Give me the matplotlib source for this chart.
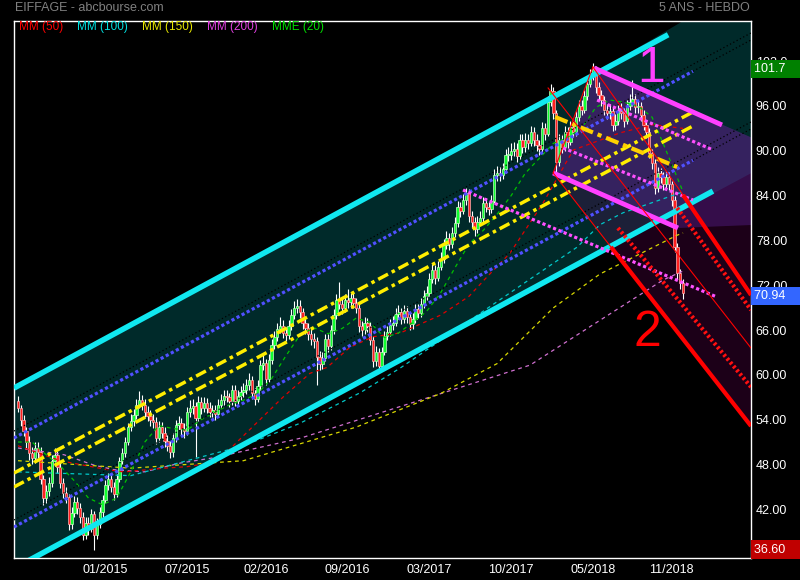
import matplotlib
matplotlib.use("Agg")
import matplotlib.pyplot as plt
import numpy as np

plt.rcParams['font.family'] = ['Liberation Sans', 'DejaVu Sans']

# --- weekly EIFFAGE quotes ---
first_open = 56.5
closes = [
    55.5, 54.0, 52.5, 51.0, 49.5, 48.8, 50.2, 49.6, 46.0, 43.5,
    44.5, 45.5, 48.5, 49.2, 47.6, 45.5, 44.2, 43.6, 40.0, 41.5,
    43.0, 42.2, 41.0, 38.5, 40.2, 39.4, 41.3, 38.6, 40.0, 41.6,
    43.2, 45.2, 46.0, 45.0, 44.0, 46.0, 48.4, 49.5, 51.0, 53.0,
    53.8, 54.6, 56.0, 56.6, 56.0, 55.0, 54.5, 54.0, 53.7, 51.6,
    53.0, 52.2, 51.2, 50.5, 49.6, 51.5, 53.3, 53.6, 52.8, 52.5,
    55.0, 55.5, 55.8, 54.2, 56.4, 55.5, 56.2, 55.6, 55.0, 55.3,
    54.8, 56.0, 56.6, 57.2, 57.0, 56.5, 58.0, 56.5, 57.2, 57.7,
    58.0, 58.6, 59.3, 57.5, 56.8, 58.5, 61.3, 61.6, 59.5, 62.0,
    64.0, 65.0, 66.2, 66.6, 65.6, 65.3, 66.5, 68.0, 69.0, 69.2,
    68.4, 67.0, 66.3, 65.5, 64.8, 64.5, 62.4, 61.5, 62.3, 64.8,
    63.8, 66.0, 68.0, 70.0, 69.5, 69.0, 70.0, 69.7, 70.3, 69.6,
    69.0, 66.5, 66.0, 67.0, 66.5, 64.7, 61.8, 63.0, 61.2, 63.0,
    65.2, 65.8, 66.7, 67.0, 68.2, 68.4, 67.5, 68.5, 67.8, 66.8,
    67.5, 68.8, 68.3, 69.5, 70.5, 71.0, 72.8, 74.0, 73.0, 74.5,
    75.5, 77.4, 78.3, 77.5, 79.0, 80.3, 82.5, 82.0, 83.4, 84.3,
    81.3, 80.5, 79.5, 80.5, 81.0, 83.0, 82.5, 82.2, 83.3, 86.8,
    87.0, 86.8, 87.5, 89.4, 89.5, 90.0, 90.3, 89.3, 91.5, 90.5,
    91.5, 91.0, 92.5, 91.5, 90.8, 90.3, 93.0, 92.3, 96.5, 98.0,
    95.0, 88.5, 91.5, 90.5, 92.5, 91.2, 93.2, 92.5, 94.5, 96.0,
    95.5, 97.3, 99.0, 100.0, 101.0, 98.5, 97.5, 96.8, 95.5, 95.0,
    95.3, 93.5, 94.0, 95.3, 95.0, 94.0, 96.0, 96.5, 97.0, 95.8,
    96.0, 94.8, 93.5, 92.5, 89.7, 88.4, 85.0, 87.0, 86.5, 85.5,
    86.5, 85.5, 83.4, 77.1, 73.6, 72.3, 70.94,
]
highs = [
    57.2, 56.0, 54.6, 53.0, 51.8, 50.3, 51.0, 51.0, 50.3, 46.6,
    45.2, 46.3, 49.2, 50.2, 49.8, 48.2, 46.2, 45.0, 44.0, 42.3,
    43.8, 43.6, 42.8, 41.6, 41.0, 41.0, 42.0, 41.8, 40.8, 42.3,
    43.9, 45.9, 46.9, 46.8, 45.6, 46.7, 49.0, 50.2, 51.7, 53.6,
    54.8, 55.4, 56.8, 57.8, 57.3, 56.7, 55.8, 55.3, 54.8, 54.3,
    53.8, 53.7, 53.0, 51.9, 51.2, 52.2, 54.0, 54.5, 54.2, 53.6,
    55.7, 56.6, 56.8, 56.4, 57.2, 57.0, 57.0, 56.9, 56.3, 56.0,
    56.0, 56.8, 57.4, 58.0, 58.0, 57.6, 58.7, 58.6, 58.0, 58.5,
    58.9, 59.5, 60.2, 59.9, 58.2, 59.3, 62.0, 62.8, 62.1, 62.8,
    64.8, 65.9, 67.0, 67.8, 67.3, 66.4, 67.3, 68.8, 69.9, 70.2,
    70.0, 69.0, 67.8, 67.0, 66.3, 65.6, 65.0, 63.2, 63.0, 65.5,
    65.4, 66.7, 68.8, 70.8, 72.4, 70.2, 70.8, 71.5, 71.0, 70.9,
    70.3, 69.6, 67.2, 67.8, 67.6, 67.1, 65.2, 63.8, 63.6, 63.7,
    65.9, 66.6, 67.5, 67.9, 69.0, 69.3, 69.0, 69.3, 69.2, 68.4,
    68.3, 69.5, 69.5, 70.3, 71.3, 71.9, 73.6, 74.8, 74.7, 75.3,
    76.4, 78.2, 79.2, 79.0, 79.8, 81.2, 83.3, 83.2, 84.2, 85.0,
    84.9, 82.0, 81.2, 81.3, 81.9, 83.8, 83.7, 83.2, 84.1, 87.6,
    88.0, 87.8, 88.4, 90.2, 90.5, 91.0, 91.2, 91.0, 92.3, 92.2,
    92.4, 92.2, 93.3, 93.2, 92.2, 91.5, 93.8, 93.7, 97.3, 99.0,
    98.6, 95.5, 92.3, 92.2, 93.3, 93.2, 94.0, 93.9, 95.3, 96.8,
    96.8, 98.1, 99.8, 100.9, 101.7, 101.3, 99.2, 98.2, 97.4, 96.2,
    96.2, 95.9, 94.9, 96.1, 96.6, 95.7, 96.8, 97.6, 99.5, 97.6,
    96.8, 96.6, 95.4, 94.1, 93.0, 90.3, 88.9, 87.8, 87.7, 87.2,
    87.3, 87.2, 86.0, 83.9, 77.6, 74.2, 72.8,
]
lows = [
    55.0, 53.2, 51.8, 50.2, 48.6, 48.0, 48.2, 48.8, 45.4, 42.6,
    42.8, 43.8, 45.0, 47.8, 46.8, 44.8, 43.5, 42.8, 39.2, 39.4,
    41.0, 41.4, 40.2, 37.9, 38.0, 38.6, 38.9, 36.6, 38.0, 39.5,
    41.0, 42.8, 44.6, 44.3, 43.2, 43.6, 45.6, 48.0, 49.0, 50.6,
    52.5, 53.2, 54.1, 55.5, 55.3, 54.3, 53.8, 53.2, 52.9, 50.8,
    51.0, 51.5, 50.4, 49.8, 48.8, 49.0, 51.0, 52.6, 52.0, 51.6,
    52.0, 54.4, 54.8, 49.0, 53.8, 54.8, 55.0, 54.9, 54.3, 54.4,
    54.0, 54.3, 55.5, 56.0, 56.3, 55.7, 56.0, 55.8, 55.9, 56.6,
    57.0, 57.4, 58.0, 56.8, 56.0, 56.3, 58.0, 60.6, 58.7, 59.0,
    61.5, 63.4, 64.5, 65.6, 64.9, 64.5, 64.8, 66.0, 67.5, 68.3,
    67.6, 66.2, 65.5, 64.7, 64.0, 63.6, 58.6, 60.6, 60.8, 61.8,
    63.0, 63.3, 65.5, 67.5, 68.8, 68.2, 68.4, 69.0, 69.0, 68.9,
    68.3, 65.8, 65.2, 65.4, 65.8, 64.0, 61.0, 61.2, 60.2, 60.7,
    62.6, 64.6, 65.2, 66.0, 66.5, 67.5, 66.8, 67.0, 67.0, 66.0,
    66.2, 67.0, 67.6, 67.8, 69.0, 70.0, 70.5, 72.3, 72.2, 72.5,
    74.0, 75.0, 76.8, 76.7, 77.0, 78.4, 79.8, 81.2, 81.5, 82.8,
    80.5, 79.7, 78.6, 79.0, 80.0, 80.5, 81.8, 81.4, 81.7, 83.0,
    86.0, 86.0, 86.2, 87.0, 88.6, 88.8, 89.3, 88.5, 88.9, 89.7,
    89.9, 90.2, 90.6, 90.7, 90.0, 89.5, 89.8, 91.5, 92.0, 96.0,
    94.3, 87.0, 88.0, 89.7, 90.0, 90.4, 90.8, 91.8, 92.0, 94.0,
    94.8, 95.0, 96.8, 98.5, 99.5, 97.8, 96.8, 96.0, 94.8, 94.2,
    94.3, 92.7, 92.8, 93.5, 94.2, 93.2, 93.6, 95.4, 96.0, 95.0,
    95.0, 94.0, 92.8, 91.7, 89.0, 87.6, 84.2, 84.5, 85.7, 84.7,
    85.0, 84.8, 82.6, 76.5, 72.8, 71.5, 70.2,
]

# moving averages, read as (bar, value) points
mm50_x = [0, 15, 31.6, 37.6, 51.8, 60, 69.6, 74.2, 94, 103.6, 109.7, 117.8, 126,
          135.6, 150, 160, 166.4, 174.6, 186.3, 197, 213.6, 225, 236]
mm50_y = [50.5, 48.5, 47.3, 47.0, 47.5, 47.7, 48.3, 49.7, 57.0, 60.2, 61.0, 63.7, 65.1,
          65.6, 68.0, 70.5, 73.1, 76.3, 83.0, 90.1, 92.4, 93.5, 93.0]
mm100_x = [0, 40, 80, 100, 121.4, 135.6, 182.8, 198.4, 206.5, 214.7, 236]
mm100_y = [47.0, 46.5, 50.5, 53.5, 57.6, 60.9, 73.1, 77.1, 80.1, 81.7, 84.5]
mm150_x = [0, 40, 80, 120, 150, 170, 189.9, 206.5, 233.9, 236]
mm150_y = [48.5, 47.5, 48.5, 53.0, 57.5, 61.5, 68.95, 73.5, 78.7, 79.0]
mm200_x = [0, 16.3, 27, 34.1, 44.7, 57.8, 69.6, 76.7, 100.1, 142.7, 181.7, 206.5, 228.9, 236]
mm200_y = [50.2, 49.3, 47.9, 47.3, 47.0, 48.2, 48.9, 49.5, 51.5, 56.6, 61.3, 67.3, 72.7, 73.9]
mme20_x = list(range(0, 235, 5)) + [236]
mme20_y = [51.0, 51.0, 49.3, 47.8, 45.8, 43.5, 42.6, 43.5, 47.0, 51.0,
           53.2, 52.8, 52.6, 54.0, 55.0, 56.0, 56.6, 57.5, 59.5, 62.5,
           65.3, 66.3, 65.5, 66.2, 67.6, 67.0, 65.0, 65.6, 67.0, 68.5,
           71.0, 74.3, 77.5, 79.3, 81.5, 84.0, 87.0, 89.0, 91.0, 91.8,
           93.0, 95.8, 96.8, 96.5, 96.0, 94.5, 90.0, 84.5]

# drawn tools: (bars, prices) of each line's two ends
chan_top = ([-1.42, 230.7], [58.23, 105.54])
chan_bot = ([-1.42, 246.6], [34.07, 84.6])
chan_q_up = ([-1.42, 239.5], [51.54, 100.65])
chan_q_dn = ([-1.42, 239.5], [39.62, 88.73])
chan_mid_a = ([-1.42, 239.5], [46.85, 95.20])
chan_mid_b = ([-1.42, 239.5], [44.98, 93.32])
guide_a = ([-1.42, 260.1], [52.47, 105.78])
guide_b = ([-1.42, 260.1], [40.56, 93.86])
guide_c = ([239.5, 260.1], [100.65, 104.84])
guide_d = ([239.5, 260.1], [88.73, 92.92])

fork1_top = ([204.4, 249.8], [101.09, 93.46])
fork1_bot = ([189.9, 234.2], [87.03, 79.66])
fork1_d1 = ([205.5, 246.6], [96.8, 90.11])
fork1_d2 = ([193.4, 239.5], [90.38, 83.41])
fork1_d3 = ([157.9, 248.0], [84.75, 70.42])
fork1_med = ([190.6, 233.9], [94.53, 87.83])

fork2_med = ([188.1, 260.1], [98.41, 63.59])
fork2_base = ([204.0, 189.9], [101.22, 87.03])
fork2_right_thin = ([204.0, 236.0], [101.22, 84.08])
fork2_left_thin = ([189.9, 210.4], [87.03, 77.12])
fork2_left = ([210.4, 260.1], [77.12, 53.14])
fork2_right = ([236.0, 260.1], [84.08, 70.69])
fork2_q1 = ([212.9, 260.1], [79.66, 58.37])
fork2_q2 = ([233.9, 260.1], [82.34, 68.68])

teal_zone_x = [-1.42, 195.9, 236.0, 262.0, 262.0, -1.42]
teal_zone_y = [58.23, 98.44, 107.38, 107.38, 87.38, 34.07]
fork1_zone_x = [204.4, 260.1, 260.1, 234.2, 189.9]
fork1_zone_y = [101.09, 91.80, 80.06, 79.66, 87.03]
fork2_zone_x = [204.4, 260.1, 260.1, 189.9]
fork2_zone_y = [101.09, 91.80, 53.14, 87.03]

tick_bars = [31, 60, 88, 117, 146, 175, 204, 232]
tick_dates = ['01/2015', '07/2015', '02/2016', '09/2016', '03/2017', '10/2017', '05/2018', '11/2018']
price_ticks = [42, 48, 54, 60, 66, 72, 78, 84, 90, 96, 102]

legend_names = ['MM (50)', 'MM (100)', 'MM (150)', 'MM (200)', 'MME (20)']
legend_colors = ['#ff0000', '#00e0e0', '#e8e800', '#e040e0', '#00e000']

# ------------------------------------------------------------------
closes = np.array(closes)
opens = np.concatenate([[first_open], closes[:-1]])
bars = np.arange(len(closes))

fig = plt.figure(figsize=(8, 5.8), dpi=100, facecolor='black')
ax = fig.add_axes([14 / 800, 22 / 580, 737 / 800, 537 / 580], facecolor='black')
ax.set_xlim(-1.42, 260.1)
ax.set_ylim(35.47, 107.38)

# filled zones
ax.fill(teal_zone_x, teal_zone_y, color='#002a2a', lw=0, zorder=1)
ax.fill(fork2_zone_x, fork2_zone_y, color='#80006e', alpha=0.22, lw=0, zorder=1.2)
ax.fill(fork1_zone_x, fork1_zone_y, color='#6428aa', alpha=0.35, lw=0, zorder=1.3)

# candles
up = closes >= opens
ax.vlines(bars, lows, highs, colors='white', lw=0.8, zorder=3)
body_lo = np.minimum(opens, closes)
body_h = np.maximum(np.abs(closes - opens), 0.2)
ax.bar(bars[up], body_h[up], bottom=body_lo[up], width=0.82,
       color='#10ff30', edgecolor='#c0ffc0', linewidth=0.5, zorder=3.1)
ax.bar(bars[~up], body_h[~up], bottom=body_lo[~up], width=0.82,
       color='#ff2020', edgecolor='#ffb0b0', linewidth=0.5, zorder=3.1)

# moving averages
ma_style = dict(lw=0.9, dashes=(3, 3), zorder=3.5)
ax.plot(mm200_x, mm200_y, color='#d070d0', **ma_style)
ax.plot(mm150_x, mm150_y, color='#d8d800', **ma_style)
ax.plot(mm100_x, mm100_y, color='#00c8c8', **ma_style)
ax.plot(mm50_x, mm50_y, color='#e00000', **ma_style)
ax.plot(mme20_x, mme20_y, color='#00c000', **ma_style)

# channel
for ln in (guide_a, guide_b, guide_c, guide_d):
    ax.plot(*ln, color='black', lw=0.9, ls=(0, (1, 2)), zorder=4)
for ln in (chan_q_up, chan_q_dn):
    ax.plot(*ln, color='#5050ff', lw=2.3, ls=(0, (1, 0.8)), dash_capstyle='butt', zorder=4)
for ln in (chan_mid_a, chan_mid_b):
    ax.plot(*ln, color='#ffee00', lw=2.5, ls=(0, (3.2, 1.2, 1, 1.2)), dash_capstyle='butt', zorder=4)
for ln in (chan_top, chan_bot):
    ax.plot(*ln, color='#10e8f0', lw=4, solid_capstyle='butt', zorder=4.2)

# fork 1 (magenta)
for ln in (fork1_d1, fork1_d2, fork1_d3):
    ax.plot(*ln, color='#ff50ff', lw=2.3, ls=(0, (1, 0.8)), dash_capstyle='butt', zorder=4.3)
ax.plot(*fork1_med, color='#ffd000', lw=3, ls=(0, (3.2, 1.2, 1, 1.2)), dash_capstyle='butt', zorder=4.3)
for ln in (fork1_top, fork1_bot):
    ax.plot(*ln, color='#ff40ff', lw=3.5, solid_capstyle='butt', zorder=4.4)

# fork 2 (red)
for ln in (fork2_med, fork2_base, fork2_right_thin, fork2_left_thin):
    ax.plot(*ln, color='#ff0000', lw=0.8, zorder=4.5)
for ln in (fork2_q1, fork2_q2):
    ax.plot(*ln, color='#ff1010', lw=3, ls=(0, (0.6, 0.6)), dash_capstyle='butt', zorder=4.5)
for ln in (fork2_left, fork2_right):
    ax.plot(*ln, color='#ff0000', lw=3, solid_capstyle='butt', zorder=4.6)

ax.text(224.5, 101.0, '1', color='#ff40ff', fontsize=36, ha='center', va='center', zorder=6)
ax.text(223.5, 65.6, '2', color='#ff0000', fontsize=36, ha='center', va='center', zorder=6)

# axes cosmetics
for sp in ax.spines.values():
    sp.set_color('white')
    sp.set_linewidth(1)
ax.yaxis.tick_right()
ax.set_yticks(price_ticks)
ax.set_yticklabels([f'{p:.2f}'[:5] for p in price_ticks])
ax.set_xticks(tick_bars)
ax.set_xticklabels(tick_dates)
ax.tick_params(axis='y', length=0, pad=3.5, labelcolor='white', labelsize=9)
ax.tick_params(axis='x', length=0, pad=4, labelcolor='white', labelsize=9)

# last / high / low boxes
box_specs = [(max(highs), '101.7', '#008000', -4), (closes[-1], '70.94', '#3366ff', -2),
             (min(lows), '36.60', '#c00000', 0)]
for val, txt, col, dy in box_specs:
    ax.annotate(txt + '    ', xy=(1, val), xycoords=ax.get_yaxis_transform(),
                xytext=(2.2, dy), textcoords='offset points', ha='left', va='center',
                color='white', fontsize=9, annotation_clip=False, zorder=10,
                bbox=dict(boxstyle='square,pad=0.25', fc=col, ec='none'))

fig.text(15 / 800, 1 - 8 / 580, 'EIFFAGE - abcbourse.com', color='#808080', fontsize=9,
         ha='left', va='center')
fig.text(750 / 800, 1 - 8 / 580, '5 ANS - HEBDO', color='#808080', fontsize=9,
         ha='right', va='center')
lx = [19, 77, 142, 207, 272]
for x, name, col in zip(lx, legend_names, legend_colors):
    fig.text(x / 800, 1 - 27 / 580, name, color=col, fontsize=8.5, ha='left', va='center')

fig.savefig('out.png', dpi=100, facecolor='black')
